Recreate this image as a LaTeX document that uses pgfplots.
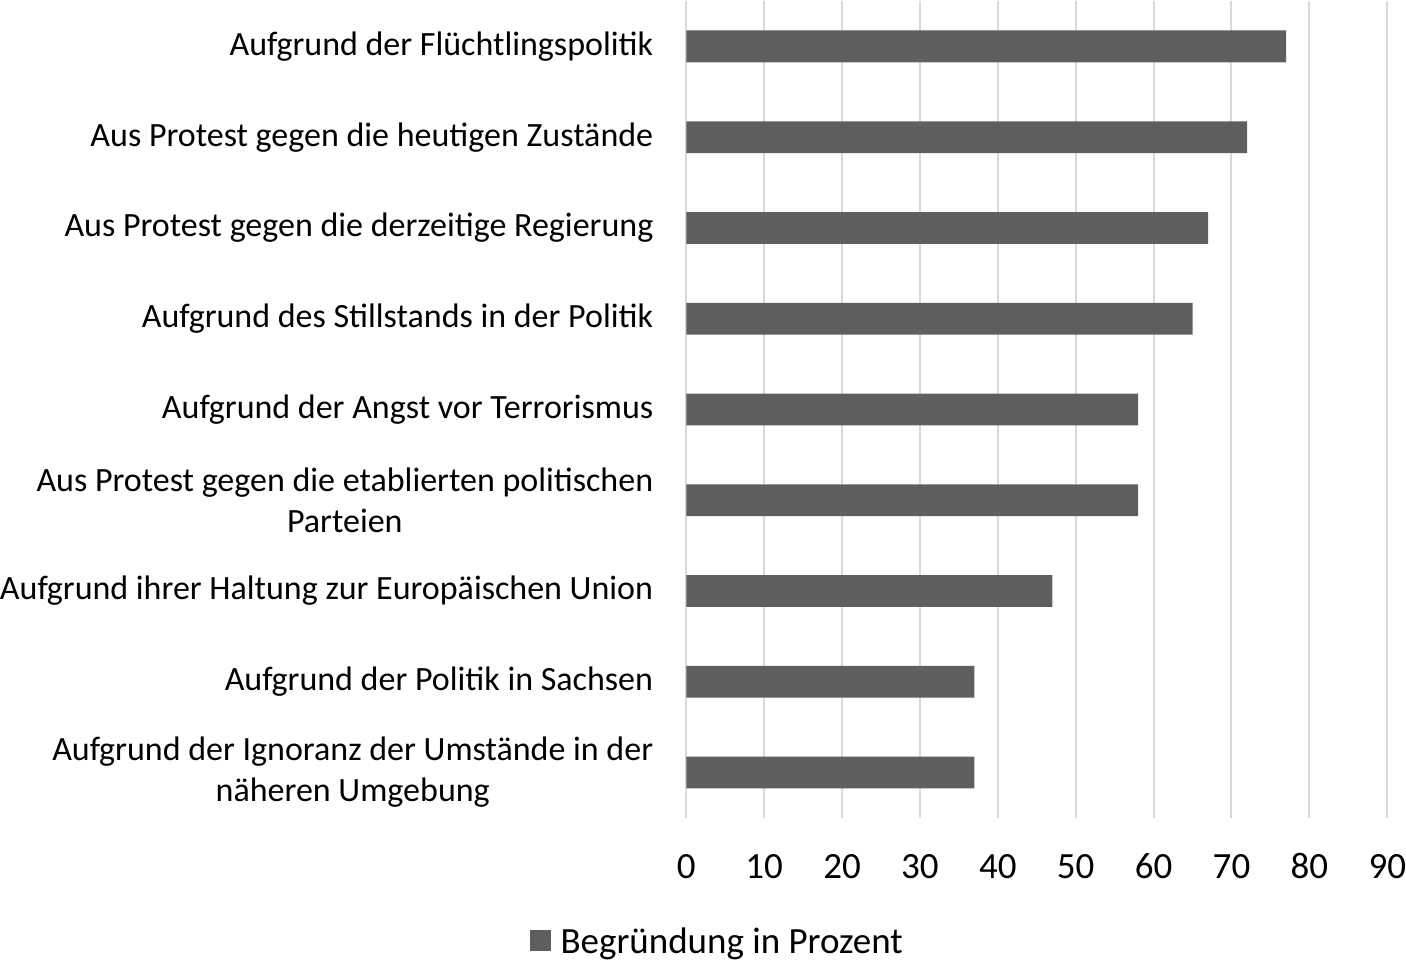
\documentclass[border=0pt]{standalone}
\usepackage{fontspec}
\setmainfont{Carlito}
\usepackage{pgfplots}
\pgfplotsset{compat=1.18}
\definecolor{barc}{HTML}{5F5F5F}
\definecolor{gridc}{HTML}{D9D9D9}
\begin{document}
\begin{tikzpicture}
\begin{axis}[
  scale only axis,
  width=701pt, height=817pt,
  xbar, bar width=0.35,
  xmin=0, xmax=90,
  ymin=-0.5, ymax=8.5,
  y dir=reverse,
  xtick={0,10,...,90},
  ytick={0,...,8},
  yticklabels={
    Aufgrund der Flüchtlingspolitik,
    Aus Protest gegen die heutigen Zustände,
    Aus Protest gegen die derzeitige Regierung,
    Aufgrund des Stillstands in der Politik,
    Aufgrund der Angst vor Terrorismus,
    {Aus Protest gegen die etablierten politischen\\Parteien},
    Aufgrund ihrer Haltung zur Europäischen Union,
    Aufgrund der Politik in Sachsen,
    {Aufgrund der Ignoranz der Umstände in der\\näheren Umgebung}
  },
  yticklabel style={anchor=east, align=center, inner sep=0pt, xshift=-33pt,
    font={\fontsize{34}{41}\selectfont}},
  xticklabel style={anchor=base, inner sep=0pt, yshift=-61pt,
    font={\fontsize{37}{42}\selectfont}},
  /pgf/number format/assume math mode=true,
  major tick length=0pt,
  axis line style={draw=none},
  xmajorgrids,
  grid style={draw=gridc, line width=2pt},
  legend style={draw=none, at={(axis description cs:0.044,-0.1506)}, anchor=center,
    font={\fontsize{37}{42}\selectfont}},
  legend image code/.code={\fill[barc] (0pt,-10pt) rectangle (21pt,11pt); \path (29pt,0pt);},
]
\addplot[fill=barc, draw=none] coordinates {
  (77,0) (72,1) (67,2) (65,3) (58,4) (58,5) (47,6) (37,7) (37,8)
};
\addlegendentry{Begründung in Prozent}
\end{axis}
\path (current bounding box.south) ++(0pt,-6pt);
\end{tikzpicture}
\end{document}
